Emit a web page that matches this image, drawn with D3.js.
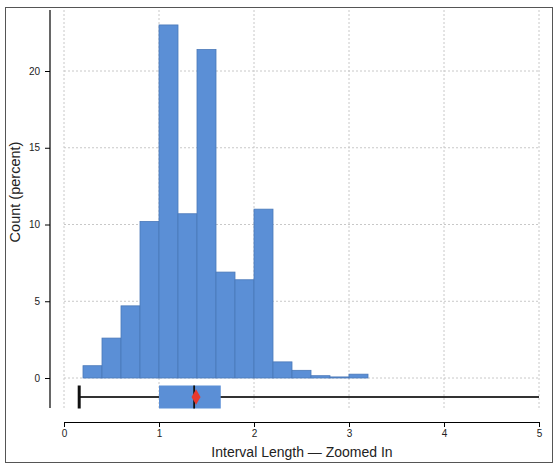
<!DOCTYPE html>
<html>
<head>
<meta charset="utf-8">
<script src="https://cdn.jsdelivr.net/npm/d3@7"></script>
<style>
  body { margin: 0; background: #fff; }
  text { font-family: "Liberation Sans", Arial, sans-serif; }
</style>
</head>
<body>
<div id="chart-area"></div>
<script>
//DATA-------------------------------------------------------------------------
const binStarts = [0.2, 0.4, 0.6, 0.8, 1.0, 1.2, 1.4, 1.6, 1.8, 2.0, 2.2, 2.4, 2.6, 2.8, 3.0,
                   3.2, 3.4, 3.6, 3.8, 4.2, 4.4, 4.6, 4.8]
const percents  = [0.8, 2.6, 4.7, 10.2, 23.0, 10.7, 21.4, 6.9, 6.4, 11.0, 1.05, 0.5, 0.15, 0.07, 0.25,
                   0, 0, 0, 0, 0, 0, 0, 0]
const binWidth = 0.2
// box plot summary
const boxStats = { min: 0.16, q1: 1.0, median: 1.37, q3: 1.65, max: 5.0, mean: 1.39 }
const xTicks = [0, 1, 2, 3, 4, 5]
const yTicks = [0, 5, 10, 15, 20]

//MARGIN CONVENTION-----------------------------------------------------------
const W = 558, H = 469
const svg = d3.select("#chart-area").append("svg")
  .attr("width", W)
  .attr("height", H)

// frame
svg.append("rect")
  .attr("x", 5.5).attr("y", 7.5)
  .attr("width", 547).attr("height", 455)
  .attr("fill", "none")
  .attr("stroke", "#555")
  .attr("stroke-width", 1)

//SCALES---------------------------------------------------------------------
const xScale = d3.scaleLinear().domain([0, 5]).range([64, 539])
const yScale = d3.scaleLinear().domain([0, 20]).range([378, 71])
const yTop = 10, yBottom = 408

// grid
const grid = svg.append("g")
grid.selectAll(".vgrid").data(xTicks).enter().append("line")
  .attr("x1", d => xScale(d)).attr("x2", d => xScale(d))
  .attr("y1", yTop).attr("y2", yBottom)
  .attr("stroke", "#c8c8c8").attr("stroke-dasharray", "2,2")
grid.selectAll(".hgrid").data(yTicks).enter().append("line")
  .attr("x1", xScale(0)).attr("x2", xScale(5))
  .attr("y1", d => yScale(d)).attr("y2", d => yScale(d))
  .attr("stroke", "#c8c8c8").attr("stroke-dasharray", "2,2")

//BARS-----------------------------------------------------------------------
const bins = binStarts.map((s, i) => ({ x0: s, x1: s + binWidth, v: percents[i] }))
svg.append("g").selectAll("rect").data(bins).enter().append("rect")
  .attr("x", d => xScale(d.x0))
  .attr("y", d => yScale(d.v))
  .attr("width", d => xScale(d.x1) - xScale(d.x0))
  .attr("height", d => yScale(0) - yScale(d.v))
  .attr("fill", "#5b8fd6")
  .attr("stroke", d => d.v > 0 ? "#4a78b8" : "#dcdcdc")
  .attr("stroke-width", 0.8)

//BOX PLOT-------------------------------------------------------------------
const boxY = 397, boxH = 23
const box = svg.append("g")
box.append("line")
  .attr("x1", xScale(boxStats.min)).attr("x2", xScale(boxStats.max))
  .attr("y1", boxY).attr("y2", boxY)
  .attr("stroke", "#333").attr("stroke-width", 2)
box.append("line")
  .attr("x1", xScale(boxStats.min)).attr("x2", xScale(boxStats.min))
  .attr("y1", boxY - boxH / 2).attr("y2", boxY + boxH / 2)
  .attr("stroke", "#111").attr("stroke-width", 3)
box.append("rect")
  .attr("x", xScale(boxStats.q1))
  .attr("y", boxY - boxH / 2)
  .attr("width", xScale(boxStats.q3) - xScale(boxStats.q1))
  .attr("height", boxH)
  .attr("fill", "#5b8fd6")
box.append("line")
  .attr("x1", xScale(boxStats.median)).attr("x2", xScale(boxStats.median))
  .attr("y1", boxY - boxH / 2).attr("y2", boxY + boxH / 2)
  .attr("stroke", "#111").attr("stroke-width", 1.8)
box.append("path")
  .attr("d", d3.symbol().type(d3.symbolDiamond).size(70))
  .attr("transform", `translate(${xScale(boxStats.mean)}, ${boxY})`)
  .attr("fill", "#e8382e")

//AXES-----------------------------------------------------------------------
const yAxis = d3.axisLeft(yScale).tickValues(yTicks).tickSize(5).tickPadding(5)
const gY = svg.append("g").attr("transform", "translate(50, 0)").call(yAxis)
gY.select(".domain").remove()
gY.append("line")
  .attr("x1", 0).attr("x2", 0).attr("y1", yTop).attr("y2", yBottom)
  .attr("stroke", "#000").attr("stroke-width", 1.2)

const xAxis = d3.axisBottom(xScale).tickValues(xTicks).tickFormat(d3.format("d"))
  .tickSize(5).tickPadding(3).tickSizeOuter(5)
const gX = svg.append("g").attr("transform", "translate(0, 422)").call(xAxis)

svg.selectAll(".tick text").attr("font-size", 10).attr("fill", "#222")
svg.selectAll(".domain, .tick line").attr("stroke", "#000")

// labels
svg.append("text")
  .attr("x", 302)
  .attr("y", 457)
  .attr("text-anchor", "middle")
  .attr("font-size", 14)
  .attr("fill", "#222")
  .text("Interval Length — Zoomed In")

svg.append("text")
  .attr("transform", "translate(20, 192) rotate(-90)")
  .attr("text-anchor", "middle")
  .attr("font-size", 14.5)
  .attr("fill", "#222")
  .text("Count (percent)")
</script>
</body>
</html>
